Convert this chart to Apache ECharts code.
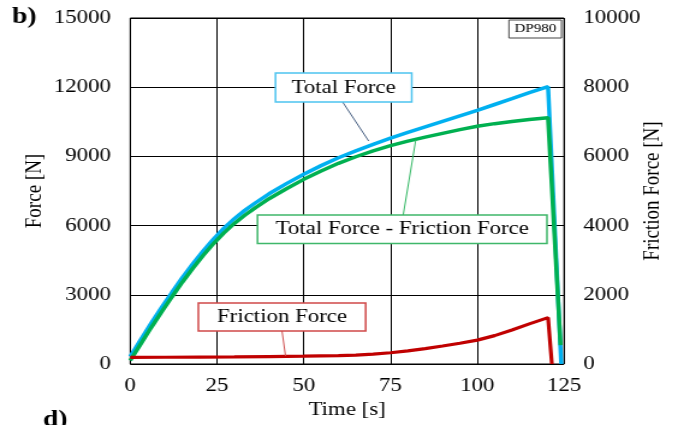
<!DOCTYPE html>
<html>
<head>
<meta charset="utf-8">
<script src="https://cdn.jsdelivr.net/npm/echarts@6/dist/echarts.min.js"></script>
<style>
html,body{margin:0;padding:0;background:#fff;overflow:hidden;width:673px;height:425px;}
#c{width:560.83px;height:425px;transform:scaleX(1.2);transform-origin:0 0;}
</style>
</head>
<body>
<div id="c"></div>
<script>
// ---- data ----
var xTicks = [0, 25, 50, 75, 100, 125];
var leftTicks = [0, 3000, 6000, 9000, 12000, 15000];
var rightTicks = [0, 2000, 4000, 6000, 8000, 10000];

var totalTime  = [0,3,6,9,12,15,18,21,24,27,30,33,36,40,45,50,55,60,65,70,75,80,85,90,95,100,105,110,115,120.4,124.2];
var totalForce = [320,1050,1760,2440,3100,3740,4340,4900,5420,5890,6300,6660,6980,7380,7820,8230,8600,8940,9240,9520,9790,10040,10280,10520,10760,11000,11250,11500,11760,12020,0];

var netTime  = [0,3,6,9,12,15,18,21,24,27,30,33,36,40,45,50,55,60,65,70,75,80,85,90,95,100,105,110,115,120.4,124];
var netForce = [150,860,1570,2245,2905,3545,4140,4700,5220,5685,6095,6450,6770,7165,7600,8005,8365,8700,8985,9240,9470,9660,9835,10000,10160,10310,10420,10510,10600,10680,820];

var fricTime  = [0,10,20,30,40,50,60,65,70,75,80,85,90,95,100,105,110,115,120.4,121.5];
var fricForce = [190,195,200,205,215,225,240,255,285,325,380,445,520,600,690,820,980,1160,1340,0];

function pairs(t, v){ return t.map(function(x,i){ return [x, v[i]]; }); }

var S = 1.2; // horizontal stretch of the reference
var W = 673 / S;
function px(x){ return x / S; }
var FONT = 'Liberation Serif';

var chart = echarts.init(document.getElementById('c'), null, {width: W, height: 425});
function plain(v){ return String(v); }
var lbl = {color:'#000', fontFamily:FONT, fontSize:19, formatter:plain};
var nameStyle = {color:'#000', fontFamily:FONT, fontSize:19};

chart.setOption({
  animation:false,
  backgroundColor:'#fff',
  grid:{left:px(130), right:W-px(563), top:18, bottom:61, show:true, borderColor:'#000', borderWidth:1,
        backgroundColor:'transparent', containLabel:false, outerBoundsMode:'none'},
  xAxis:{type:'value', min:xTicks[0], max:xTicks[xTicks.length-1], interval:25,
    name:'Time [s]', nameLocation:'middle', nameGap:37, nameMoveOverlap:false,
    nameTextStyle:nameStyle,
    axisLine:{show:false}, axisTick:{show:false},
    axisLabel:Object.assign({margin:13}, lbl),
    splitLine:{show:true, lineStyle:{color:'#000', width:1}}},
  yAxis:[
    {type:'value', min:leftTicks[0], max:leftTicks[leftTicks.length-1], interval:3000,
     name:'Force [N]', nameLocation:'middle', nameGap:70, nameMoveOverlap:false,
     nameTextStyle:nameStyle,
     axisLine:{show:false}, axisTick:{show:false},
     axisLabel:Object.assign({margin:16}, lbl),
     splitLine:{show:true, lineStyle:{color:'#000', width:1}}},
    {type:'value', min:rightTicks[0], max:rightTicks[rightTicks.length-1], interval:2000, position:'right',
     name:'Friction Force [N]', nameLocation:'middle', nameGap:64, nameMoveOverlap:false,
     nameTextStyle:nameStyle,
     axisLine:{show:false}, axisTick:{show:false},
     axisLabel:Object.assign({margin:16}, lbl),
     splitLine:{show:false}}
  ],
  series:[
    {name:'Total Force', type:'line', yAxisIndex:0, data:pairs(totalTime,totalForce), showSymbol:false, smooth:false,
     lineStyle:{color:'#00b0f0', width:3.5}, z:3},
    {name:'Total Force - Friction Force', type:'line', yAxisIndex:0, data:pairs(netTime,netForce), showSymbol:false, smooth:false,
     lineStyle:{color:'#00b050', width:3.5}, z:4},
    {name:'Friction Force', type:'line', yAxisIndex:1, data:pairs(fricTime,fricForce), showSymbol:false, smooth:false,
     lineStyle:{color:'#c00000', width:3.2}, z:5}
  ],
  graphic:[
    {type:'text', left:px(12), top:6, style:{text:'b)', font:'bold 23px '+FONT, fill:'#000'}},
    {type:'text', left:px(43), top:409, style:{text:'d)', font:'bold 23px '+FONT, fill:'#000'}},
    // DP980
    {type:'rect', shape:{x:px(508), y:20, width:px(560.5)-px(508), height:18}, style:{fill:'#fff', stroke:'#444', lineWidth:1}, z:20},
    {type:'text', x:px(534.5), y:29, style:{text:'DP980', font:'12.5px '+FONT, fill:'#000', align:'center', verticalAlign:'middle'}, z:21},
    // Total Force label
    {type:'line', shape:{x1:px(342), y1:102, x2:px(368), y2:141}, style:{stroke:'#4a6284', lineWidth:1}, z:20},
    {type:'rect', shape:{x:px(275), y:73, width:px(411)-px(275), height:29}, style:{fill:'#fff', stroke:'#4cc3f0', lineWidth:1.5}, z:20},
    {type:'text', x:px(343), y:88, style:{text:'Total Force', font:'19px '+FONT, fill:'#000', align:'center', verticalAlign:'middle'}, z:21},
    // Total - friction label
    {type:'line', shape:{x1:px(415), y1:140, x2:px(402.5), y2:215}, style:{stroke:'#33b864', lineWidth:1}, z:20},
    {type:'rect', shape:{x:px(257), y:215, width:px(546)-px(257), height:28.5}, style:{fill:'#fff', stroke:'#3fb76a', lineWidth:1.5}, z:20},
    {type:'text', x:px(401.5), y:229.5, style:{text:'Total Force - Friction Force', font:'19px '+FONT, fill:'#000', align:'center', verticalAlign:'middle'}, z:21},
    // Friction label
    {type:'line', shape:{x1:px(281.5), y1:331, x2:px(285), y2:356}, style:{stroke:'#d05050', lineWidth:1}, z:20},
    {type:'rect', shape:{x:px(198), y:303, width:px(365)-px(198), height:28}, style:{fill:'#fff', stroke:'#d04848', lineWidth:1.5}, z:20},
    {type:'text', x:px(281.5), y:317, style:{text:'Friction Force', font:'19px '+FONT, fill:'#000', align:'center', verticalAlign:'middle'}, z:21}
  ]
});
</script>
</body>
</html>
